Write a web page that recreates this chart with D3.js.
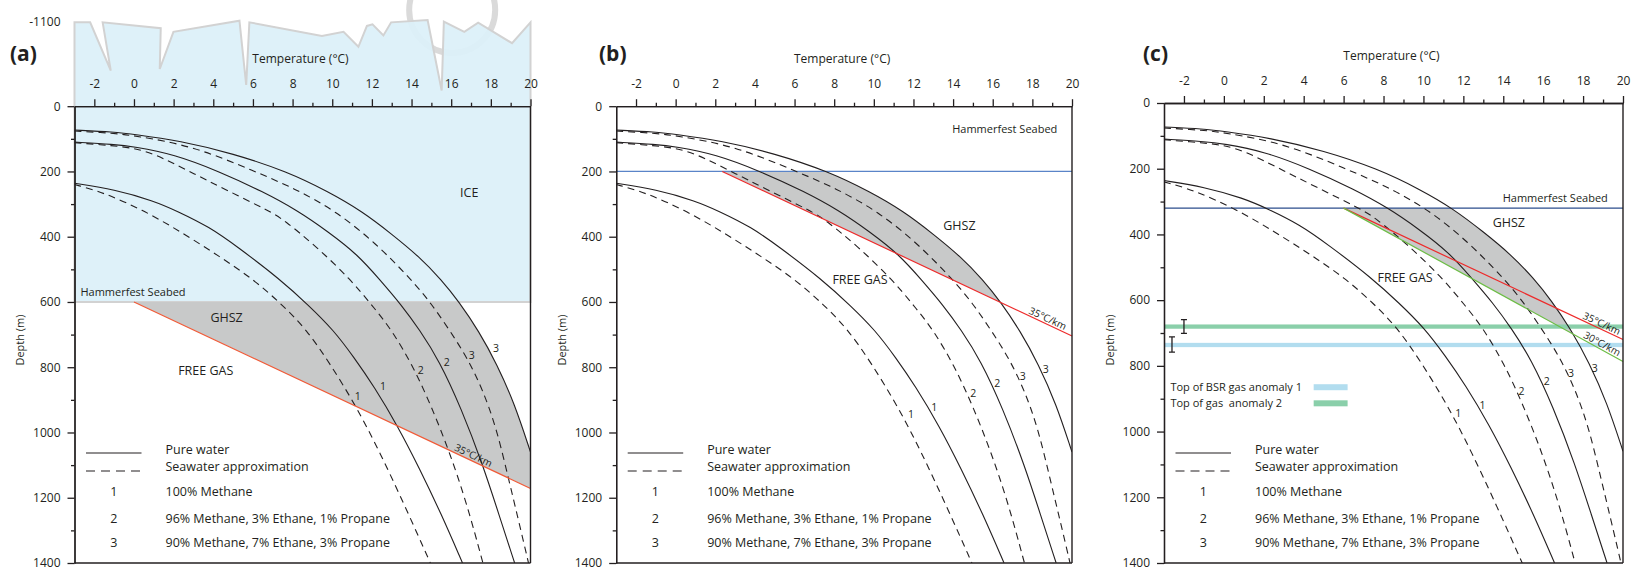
<!DOCTYPE html>
<html>
<head>
<meta charset="utf-8">
<script src="https://cdn.jsdelivr.net/npm/d3@7"></script>
<style>
  body { margin: 0; background: #fff; }
  text { font-family: "Open Sans", sans-serif; fill: #231f20; }
</style>
</head>
<body>
<svg id="chart" width="1632" height="578"></svg>
<script>
// axis ticks
const tempTicks = [-2, 0, 2, 4, 6, 8, 10, 12, 14, 16, 18, 20];
const tempMinorTicks = [-1, 1, 3, 5, 7, 9, 11, 13, 15, 17, 19];
const depthTicks = [0, 200, 400, 600, 800, 1000, 1200, 1400];
const depthMinorTicks = [100, 300, 500, 700, 900, 1100, 1300];

// hydrate stability curves, [temperature °C, depth m]
const pureWater1 = [[-3, 236], [-1, 255], [1, 290], [2.2, 322], [3.8, 370], [5.2, 430], [7.4, 532], [8.8, 610], [10.05, 685], [11.1, 770], [12.1, 858], [13.3, 980], [14.4, 1110], [15.5, 1250], [16.57, 1400]];
const pureWater2 = [[-3, 110], [-1, 117], [0, 124], [2, 147], [4.3, 200], [6.5, 262], [8.2, 318], [9.8, 385], [11.3, 456], [12.4, 532], [13.5, 610], [14.4, 685], [15.4, 780], [16.5, 925], [17.6, 1100], [18.4, 1250], [19.2, 1400]];
const pureWater3 = [[-3, 73], [-1, 79], [0, 86], [2.3, 106], [5, 145], [7.7, 200], [9.8, 262], [11.5, 322], [13, 392], [14.4, 462], [15.5, 532], [16.4, 600], [17.4, 690], [18.3, 790], [19.2, 912], [20, 1060]];
const seawater1 = [[-3, 240], [-1.5, 265], [0.58, 322], [2.5, 390], [4.3, 460], [6.06, 532], [7.5, 610], [8.71, 685], [9.9, 790], [11.2, 919], [12.4, 1060], [13.7, 1230], [14.95, 1400]];
const seawater2 = [[-3, 112], [-1, 121], [0, 129], [1, 145], [2.8, 200], [4.5, 252], [6.85, 322], [7.55, 348], [9.2, 430], [10.94, 532], [12, 610], [13, 685], [14.1, 800], [15, 920], [15.9, 1057], [16.8, 1220], [17.6, 1400]];
const seawater3 = [[-3, 76], [-1, 83], [0, 90], [3, 122], [6.1, 200], [8.1, 252], [10.2, 322], [12.2, 420], [14, 532], [15, 605], [15.9, 685], [16.8, 770], [17.6, 870], [18.3, 990], [18.9, 1144], [19.4, 1270], [19.9, 1400]];

// ice sheet outline for panel (a), [temperature °C, depth m]
const iceOutline = [[-3, -257], [-2.21, -257], [-1.17, -109], [-1.58, -257], [1.35, -239], [1.3, -114], [1.99, -228], [5.32, -262], [5.66, -65], [5.82, -257], [9.48, -215], [10.57, -228], [11.32, -182], [11.75, -246], [12.03, -251], [12.58, -217], [12.97, -257], [14.81, -264], [15.52, -48], [15.63, -259], [16.66, -228], [17.36, -256], [19.07, -193], [20, -257], [20, 600], [-3, 600]];
const iceTopLabel = '-1100';

// seabed and geotherms per panel
const panelNames = ['(a)', '(b)', '(c)'];
const seabedDepth = [600, 200, 320];
const seabedTemp = [0, 2.35, 6];
const gradientLabels = ['35°C/km', '30°C/km'];
const gradients = [35, 30];

// gas anomalies in panel (c): [top, bottom] depth
const bsrAnomaly1 = [730, 743];
const gasAnomaly2 = [674, 687];
const errorBars = [[-2.0, 659, 701], [-2.6, 712, 758]];
const anomalyLabels = ['Top of BSR gas anomaly 1', 'Top of gas  anomaly 2'];

const legendLines = ['Pure water', 'Seawater approximation'];
const compositionIds = ['1', '2', '3'];
const compositions = ['100% Methane', '96% Methane, 3% Ethane, 1% Propane', '90% Methane, 7% Ethane, 3% Propane'];

const svg = d3.select('#chart');
const ink = '#231f20';

const panels = [
  { i: 0, x0: 74.5, x1: 530.5, y0: 106.2, y1: 563, nameX: 10, geoColor: '#f15a37', seabedColor: null,
    ghsz: [4.67, 649], free: [3.62, 810], seabedLabel: [-2.7, 570, 'start'], rateT: [17.0],
    curveLabels: [[11.29, 888], [12.56, 858], [14.46, 809], [15.78, 784], [17.04, 764], [18.26, 743]] },
  { i: 1, x0: 616.2, x1: 1072, y0: 106.2, y1: 563, nameX: 599, geoColor: '#ee2a2a', seabedColor: '#5a84c8',
    ghsz: [14.32, 367], free: [9.3, 531], seabedLabel: [19.26, 70, 'end'], rateT: [18.66],
    curveLabels: [[11.88, 945], [13.05, 922], [15.02, 879], [16.23, 848], [17.51, 828], [18.67, 806]] },
  { i: 2, x0: 1164, x1: 1623, y0: 103, y1: 563, nameX: 1143, geoColor: '#ee2a2a', seabedColor: '#2b4c8c',
    ghsz: [14.28, 365], free: [9.08, 532], seabedLabel: [19.24, 291, 'end'], rateT: [18.82, 18.82],
    curveLabels: [[11.74, 944], [12.96, 920], [14.91, 877], [16.18, 846], [17.4, 824], [18.59, 808]] }
];

const curves = [
  { data: seawater1, dash: '7,5', id: 0 },
  { data: pureWater1, dash: null, id: 0 },
  { data: seawater2, dash: '7,5', id: 1 },
  { data: pureWater2, dash: null, id: 1 },
  { data: seawater3, dash: '7,5', id: 2 },
  { data: pureWater3, dash: null, id: 2 }
];

panels.forEach(p => {
  const x = d3.scaleLinear().domain([-3, 20]).range([p.x0, p.x1]);
  const y = d3.scaleLinear().domain([0, 1400]).range([p.y0, p.y1]);
  const line = d3.line().x(d => x(d[0])).y(d => y(d[1])).curve(d3.curveBasis);
  const straight = d3.line().x(d => x(d[0])).y(d => y(d[1]));
  const g = svg.append('g');
  const seabed = seabedDepth[p.i];
  const t0 = seabedTemp[p.i];

  const clipId = 'plot-' + p.i;
  svg.append('clipPath').attr('id', clipId).append('rect')
    .attr('x', p.x0).attr('y', p.y0).attr('width', p.x1 - p.x0).attr('height', p.y1 - p.y0);

  // ice sheet
  if (p.i === 0) {
    g.append('circle')
      .attr('cx', x(16.05)).attr('cy', y(-295)).attr('r', 43)
      .attr('fill', 'none').attr('stroke', '#dadada').attr('stroke-width', 6);
    g.append('path')
      .attr('d', straight(iceOutline) + 'Z')
      .attr('fill', '#dcf0f9').attr('fill-opacity', 0.93)
      .attr('stroke', '#d2d2d2').attr('stroke-width', 2);
  }

  // GHSZ: between seabed, the lowest geotherm and curve 3 (pure water)
  const steepest = p.i === 2 ? gradients[1] : gradients[0];
  const zEnd = seabed + (20 - t0) / steepest * 1000;
  const s3 = pureWater3[pureWater3.length - 1];
  const leftOfS3 = 'ghsz-' + p.i;
  svg.append('clipPath').attr('id', leftOfS3).append('path')
    .attr('d', line(pureWater3) + `L${x(21)},${y(s3[1])}L${x(21)},${y(1400)}L${x(-3)},${y(1400)}Z`);
  g.append('g').attr('clip-path', `url(#${clipId})`)
    .append('path')
    .attr('clip-path', `url(#${leftOfS3})`)
    .attr('d', straight([[t0, seabed], [20, seabed], [20, zEnd]]) + 'Z')
    .attr('fill', '#c8c9c9');

  // gas anomaly bands (c)
  if (p.i === 2) {
    [[bsrAnomaly1, '#b2ddef'], [gasAnomaly2, '#8acfaa']].forEach(([b, c]) => {
      g.append('rect').attr('x', p.x0).attr('width', p.x1 - p.x0)
        .attr('y', y(b[0])).attr('height', y(b[1]) - y(b[0])).attr('fill', c);
    });
  }

  // seabed line
  if (p.seabedColor) {
    g.append('line').attr('x1', p.x0).attr('x2', p.x1).attr('y1', y(seabed)).attr('y2', y(seabed))
      .attr('stroke', p.seabedColor).attr('stroke-width', 1.3);
  }

  // hydrate stability curves
  const cg = g.append('g').attr('clip-path', `url(#${clipId})`);
  curves.forEach(c => {
    cg.append('path').attr('d', line(c.data)).attr('fill', 'none')
      .attr('stroke', ink).attr('stroke-width', 1.1)
      .attr('stroke-dasharray', c.dash);
  });

  // geotherms
  const geoList = p.i === 2 ? [[gradients[0], p.geoColor], [gradients[1], '#6cbd45']] : [[gradients[0], p.geoColor]];
  geoList.forEach(([gr, col], k) => {
    const zAt = t => seabed + (t - t0) / gr * 1000;
    g.append('line')
      .attr('x1', x(t0)).attr('y1', y(seabed)).attr('x2', x(20)).attr('y2', y(zAt(20)))
      .attr('stroke', col).attr('stroke-width', 1.2);
    const ang = Math.atan2(y(zAt(20)) - y(seabed), x(20) - x(t0)) * 180 / Math.PI;
    const tl = p.rateT[k];
    g.append('text')
      .attr('transform', `translate(${x(tl)},${y(zAt(tl))}) rotate(${ang}) translate(0,-2)`)
      .attr('text-anchor', 'middle').attr('font-size', 10)
      .text(gradientLabels[gradients.indexOf(gr)]);
  });

  // axes
  const xAxis = g.append('g').attr('transform', `translate(0,${p.y0})`)
    .call(d3.axisTop(x).tickValues(tempTicks).tickSize(7).tickSizeOuter(0).tickPadding(11.5).tickFormat(d => String(d)));
  const xMinor = g.append('g').attr('transform', `translate(0,${p.y0})`)
    .call(d3.axisTop(x).tickValues(tempMinorTicks).tickSize(3.5).tickSizeOuter(0).tickFormat(''));
  const yAxis = g.append('g').attr('transform', `translate(${p.x0},0)`)
    .call(d3.axisLeft(y).tickValues(depthTicks).tickSize(7).tickSizeOuter(0).tickPadding(7).tickFormat(d => String(d)));
  const yMinor = g.append('g').attr('transform', `translate(${p.x0},0)`)
    .call(d3.axisLeft(y).tickValues(depthMinorTicks).tickSize(3.5).tickSizeOuter(0).tickFormat(''));
  [xAxis, xMinor, yAxis, yMinor].forEach(a => {
    a.attr('font-family', null).attr('font-size', null);
    a.selectAll('path, line').attr('stroke', ink).attr('stroke-width', 1.3);
    a.selectAll('text').attr('font-size', 12).attr('fill', ink);
  });
  g.append('line').attr('x1', p.x1).attr('x2', p.x1).attr('y1', p.y0).attr('y2', p.y1)
    .attr('stroke', ink).attr('stroke-width', 1.4);
  g.append('line').attr('x1', p.x0).attr('x2', p.x1).attr('y1', p.y1).attr('y2', p.y1)
    .attr('stroke', ink).attr('stroke-width', 1.4);

  if (p.i === 0) {
    g.append('text').attr('x', p.x0 - 14).attr('y', y(iceOutline[0][1])).attr('dy', '0.32em')
      .attr('text-anchor', 'end').attr('font-size', 12).text(iceTopLabel);
    g.append('text').attr('x', x(16.91)).attr('y', y(264)).attr('dy', '0.35em')
      .attr('text-anchor', 'middle').attr('font-size', 12.5).text('ICE');
  }

  // titles
  g.append('text').attr('x', p.nameX).attr('y', 61)
    .attr('font-family', '"DejaVu Sans", sans-serif').attr('font-weight', 'bold').attr('font-size', 21)
    .text(panelNames[p.i]);
  g.append('text').attr('x', (p.x0 + p.x1) / 2 - 2).attr('y', p.y0 - 47).attr('dy', '0.35em')
    .attr('text-anchor', 'middle').attr('font-size', 12).text('Temperature (°C)');
  g.append('text').attr('transform', `translate(${p.x0 - 54},340) rotate(-90)`)
    .attr('text-anchor', 'middle').attr('dy', '0.35em').attr('font-size', 11).text('Depth (m)');

  // zone labels
  g.append('text').attr('x', x(p.ghsz[0])).attr('y', y(p.ghsz[1])).attr('dy', '0.35em')
    .attr('text-anchor', 'middle').attr('font-size', 12.5).text('GHSZ');
  g.append('text').attr('x', x(p.free[0])).attr('y', y(p.free[1])).attr('dy', '0.35em')
    .attr('text-anchor', 'middle').attr('font-size', 12.5).text('FREE GAS');
  g.append('text').attr('x', x(p.seabedLabel[0])).attr('y', y(p.seabedLabel[1])).attr('dy', '0.35em')
    .attr('text-anchor', p.seabedLabel[2]).attr('font-size', 11).text('Hammerfest Seabed');

  // curve numbers
  curves.forEach((c, k) => {
    const lp = p.curveLabels[k];
    g.append('text').attr('x', x(lp[0])).attr('y', y(lp[1])).attr('dy', '0.35em')
      .attr('text-anchor', 'middle').attr('font-size', 10.5).text(compositionIds[c.id]);
  });

  // legend
  const lx = p.x0 + 11.5, lw = 55.5, tx = p.x0 + 91;
  g.append('line').attr('x1', lx).attr('x2', lx + lw).attr('y1', 453).attr('y2', 453)
    .attr('stroke', ink).attr('stroke-width', 1.1);
  g.append('line').attr('x1', lx).attr('x2', lx + lw).attr('y1', 471).attr('y2', 471)
    .attr('stroke', ink).attr('stroke-width', 1.1).attr('stroke-dasharray', '9,6');
  [450, 466.5].forEach((ty, k) => {
    g.append('text').attr('x', tx).attr('y', ty).attr('dy', '0.35em').attr('font-size', 12.5).text(legendLines[k]);
  });
  [491.5, 518.5, 543].forEach((ty, k) => {
    g.append('text').attr('x', lx + lw / 2).attr('y', ty).attr('dy', '0.35em')
      .attr('text-anchor', 'middle').attr('font-size', 12.5).text(compositionIds[k]);
    g.append('text').attr('x', tx).attr('y', ty).attr('dy', '0.35em').attr('font-size', 12.5).text(compositions[k]);
  });

  // anomaly legend and error bars (c)
  if (p.i === 2) {
    errorBars.forEach(([t, za, zb]) => {
      const ex = x(t);
      g.append('path')
        .attr('d', `M${ex},${y(za)}V${y(zb)}M${ex - 3},${y(za)}H${ex + 3}M${ex - 3},${y(zb)}H${ex + 3}`)
        .attr('stroke', ink).attr('stroke-width', 1.3).attr('fill', 'none');
    });
    [[865, '#b2ddef'], [914, '#8acfaa']].forEach(([z, col], k) => {
      g.append('text').attr('x', x(-2.68)).attr('y', y(z)).attr('dy', '0.35em')
        .attr('font-size', 11).attr('fill', '#4d4d4d').style('white-space', 'pre').text(anomalyLabels[k]);
      g.append('rect').attr('x', x(4.5)).attr('width', x(6.2) - x(4.5))
        .attr('y', y(z) - 3).attr('height', 6).attr('fill', col);
    });
  }
});
</script>
</body>
</html>
